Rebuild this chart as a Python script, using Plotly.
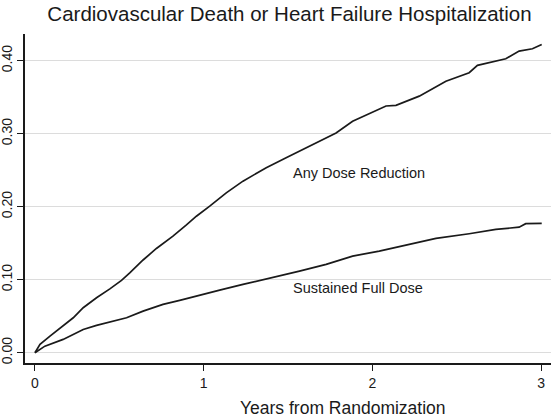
import plotly.graph_objects as go

# Any Dose Reduction (years, cumulative incidence)
t_reduction = [0, 0.030, 0.089, 0.167, 0.227, 0.286, 0.365, 0.444, 0.513, 0.562, 0.641,
               0.720, 0.818, 0.898, 0.957, 1.036, 1.134, 1.233, 1.371, 1.489, 1.627,
               1.785, 1.883, 2.041, 2.081, 2.140, 2.278, 2.436, 2.574, 2.623, 2.791,
               2.870, 2.949, 3.004]
y_reduction = [0, 0.0114, 0.0227, 0.0364, 0.0479, 0.0616, 0.0753, 0.0874, 0.0991, 0.1093,
               0.127, 0.1428, 0.1597, 0.175, 0.187, 0.2008, 0.219, 0.235, 0.2534, 0.267,
               0.283, 0.301, 0.317, 0.333, 0.338, 0.3388, 0.3515, 0.372, 0.3836, 0.3936,
               0.4027, 0.4132, 0.4164, 0.4223]

# Sustained Full Dose
t_full = [0, 0.059, 0.167, 0.286, 0.365, 0.463, 0.543, 0.641, 0.759, 0.858, 1.036, 1.095,
          1.233, 1.410, 1.568, 1.726, 1.883, 2.041, 2.179, 2.377, 2.574, 2.732, 2.870,
          2.909, 3.004]
y_full = [0, 0.009, 0.0182, 0.0319, 0.0374, 0.0433, 0.0479, 0.057, 0.0662, 0.0716, 0.083,
          0.0858, 0.0936, 0.1027, 0.1118, 0.121, 0.1323, 0.1392, 0.146, 0.1566, 0.163,
          0.1689, 0.172, 0.1767, 0.1771]

x_ticks = [0, 1, 2, 3]
y_ticks = [0.0, 0.1, 0.2, 0.3, 0.4]
y_tick_labels = ["0.00", "0.10", "0.20", "0.30", "0.40"]

FONT = "Liberation Sans, Arial, sans-serif"

fig = go.Figure()
fig.add_trace(go.Scatter(x=t_reduction, y=y_reduction, mode="lines",
                         line=dict(color="#1a1a1a", width=1.7), showlegend=False))
fig.add_trace(go.Scatter(x=t_full, y=y_full, mode="lines",
                         line=dict(color="#1a1a1a", width=1.7), showlegend=False))

fig.add_annotation(x=1.52, y=0.2465, xref="x", yref="y", text="Any Dose Reduction",
                   showarrow=False, xanchor="left", yanchor="middle",
                   font=dict(family=FONT, size=14.5, color="#1a1a1a"))
fig.add_annotation(x=1.52, y=0.0882, xref="x", yref="y", text="Sustained Full Dose",
                   showarrow=False, xanchor="left", yanchor="middle",
                   font=dict(family=FONT, size=14.5, color="#1a1a1a"))
fig.add_annotation(x=0.6046, y=-0.137, xref="paper", yref="paper",
                   text="Years from Randomization", showarrow=False,
                   xanchor="center", yanchor="middle",
                   font=dict(family=FONT, size=17.5, color="#1a1a1a"))

fig.update_layout(
    width=555, height=419,
    margin=dict(l=25, r=4, t=34, b=56),
    paper_bgcolor="white", plot_bgcolor="white",
    font=dict(family=FONT, color="#1a1a1a"),
    title=dict(text="Cardiovascular Death or Heart Failure Hospitalization",
               x=0.5216, xanchor="center", y=0.967, yanchor="middle",
               font=dict(family=FONT, size=20.5, color="#1a1a1a")),
    xaxis=dict(range=[-0.059, 3.059], tickvals=x_ticks, ticktext=[str(v) for v in x_ticks],
               automargin=False,
               showgrid=False, zeroline=False, showline=True, linecolor="#1a1a1a",
               linewidth=1.5, ticks="outside", ticklen=6, tickwidth=1.3,
               tickcolor="#1a1a1a", tickfont=dict(family=FONT, size=14, color="#1a1a1a")),
    yaxis=dict(range=[-0.0141, 0.4366], tickvals=y_ticks, ticktext=y_tick_labels,
               automargin=False,
               showgrid=True, gridcolor="#dcdcdc", gridwidth=1.2, zeroline=False,
               showline=True, linecolor="#1a1a1a", linewidth=1.5, ticks="outside",
               ticklen=6, tickwidth=1.3, tickcolor="#1a1a1a", tickangle=-90,
               tickfont=dict(family=FONT, size=14, color="#1a1a1a")),
)

fig.write_html("out.html", config={"displayModeBar": False},
               post_script="document.body.style.margin='0';document.body.style.overflow='hidden';")
